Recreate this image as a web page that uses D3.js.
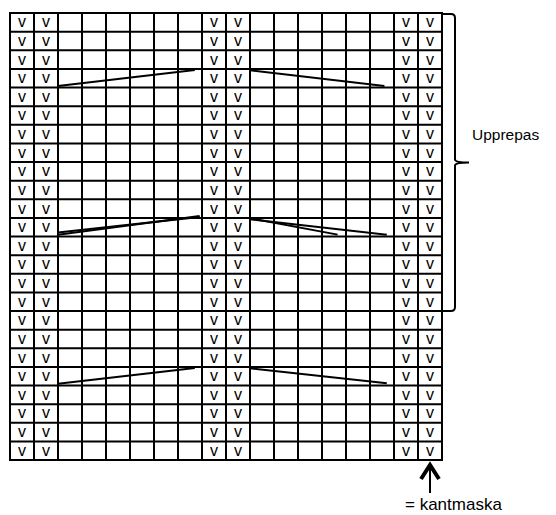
<!DOCTYPE html>
<html>
<head>
<meta charset="utf-8">
<script src="https://cdn.jsdelivr.net/npm/d3@7"></script>
<style>
  body { margin: 0; background: #fff; }
  svg { display: block; }
</style>
</head>
<body>
<div class="vis-container"></div>
<script>
// chart grid: 18 stitches x 24 rows
var numCols = 18;
var numRows = 24;
// columns that carry the "v" symbol
var vCols = [0, 1, 8, 9, 16, 17];
// floats: [colStart, rowStart, colEnd, rowEnd] in grid units
var floats = [
  [2, 3.92, 7.7, 3.06],
  [10, 3.08, 15.6, 3.92],
  [2, 11.9, 7.9, 10.9],
  [2, 11.78, 7.9, 10.95],
  [10, 11.02, 13.65, 11.9],
  [10, 11.08, 15.7, 11.9],
  [2, 19.9, 7.7, 19.06],
  [10, 19.08, 15.7, 19.88]
];
// repeat bracket spans these row lines
var repeatRows = [0, 16];
var repeatLabel = "Upprepas";
var edgeLabel = "= kantmaska";
var edgeCol = 17;

var svg = d3.select(".vis-container").append("svg")
  .attr("width", 556)
  .attr("height", 515);

var x = d3.scaleLinear().domain([0, numCols]).range([10, 442]);
var y = d3.scaleLinear().domain([0, numRows]).range([13, 460]);

var cells = [];
for (var r = 0; r < numRows; r++) {
  for (var c = 0; c < numCols; c++) {
    cells.push({ r: r, c: c, v: vCols.indexOf(c) >= 0 });
  }
}

svg.append("rect")
  .attr("x", x(0)).attr("y", y(0))
  .attr("width", x(numCols) - x(0)).attr("height", y(numRows) - y(0))
  .attr("fill", "#fff");

// v symbols
svg.selectAll("text.v")
  .data(cells.filter(function(d) { return d.v; }))
  .enter().append("text")
  .attr("class", "v")
  .attr("x", function(d) { return (x(d.c) + x(d.c + 1)) / 2; })
  .attr("y", function(d) { return (y(d.r) + y(d.r + 1)) / 2 + 5; })
  .attr("text-anchor", "middle")
  .attr("font-family", "Liberation Sans, Arial, sans-serif")
  .attr("font-size", 16)
  .attr("fill", "#000")
  .text("v");

// grid lines
svg.selectAll("line.col")
  .data(d3.range(numCols + 1))
  .enter().append("line")
  .attr("x1", function(d) { return x(d); })
  .attr("x2", function(d) { return x(d); })
  .attr("y1", y(0)).attr("y2", y(numRows))
  .attr("stroke", "#000").attr("stroke-width", 2);

svg.selectAll("line.row")
  .data(d3.range(numRows + 1))
  .enter().append("line")
  .attr("x1", x(0) - 1).attr("x2", x(numCols) + 1)
  .attr("y1", function(d) { return y(d); })
  .attr("y2", function(d) { return y(d); })
  .attr("stroke", "#000").attr("stroke-width", 2);

// floats
svg.selectAll("line.float")
  .data(floats)
  .enter().append("line")
  .attr("x1", function(d) { return x(d[0]); })
  .attr("y1", function(d) { return y(d[1]); })
  .attr("x2", function(d) { return x(d[2]); })
  .attr("y2", function(d) { return y(d[3]); })
  .attr("stroke", "#000").attr("stroke-width", 2);

// repeat bracket
var bTop = y(repeatRows[0]) + 1, bBot = y(repeatRows[1]);
var bMid = (bTop + bBot) / 2;
var bx0 = x(numCols) + 1, bx1 = bx0 + 12, bTip = bx1 + 14;
svg.append("path")
  .attr("d", "M" + bx0 + "," + bTop + " L" + (bx1 - 4) + "," + bTop +
    " Q" + bx1 + "," + bTop + " " + bx1 + "," + (bTop + 4) +
    " L" + bx1 + "," + (bMid - 3) +
    " Q" + bx1 + "," + bMid + " " + bTip + "," + bMid +
    " Q" + bx1 + "," + bMid + " " + bx1 + "," + (bMid + 3) +
    " L" + bx1 + "," + (bBot - 4) +
    " Q" + bx1 + "," + bBot + " " + (bx1 - 4) + "," + bBot +
    " L" + bx0 + "," + bBot)
  .attr("fill", "none")
  .attr("stroke", "#000").attr("stroke-width", 2);

svg.append("text")
  .attr("x", 472).attr("y", 140)
  .attr("font-family", "Liberation Sans, Arial, sans-serif")
  .attr("font-size", 15.5)
  .attr("fill", "#000")
  .text(repeatLabel);

// edge stitch arrow
var ax = (x(edgeCol) + x(edgeCol + 1)) / 2;
var ay = y(numRows) + 3;
svg.append("line")
  .attr("x1", ax).attr("x2", ax)
  .attr("y1", ay + 2).attr("y2", ay + 30)
  .attr("stroke", "#000").attr("stroke-width", 2);
svg.append("path")
  .attr("d", "M" + (ax - 9) + "," + (ay + 16) + " L" + ax + "," + (ay + 2) + " L" + (ax + 9) + "," + (ay + 16))
  .attr("fill", "none")
  .attr("stroke", "#000").attr("stroke-width", 4)
  .attr("stroke-linejoin", "miter");

svg.append("text")
  .attr("x", 405).attr("y", 510)
  .attr("font-family", "Liberation Sans, Arial, sans-serif")
  .attr("font-size", 17)
  .attr("fill", "#000")
  .text(edgeLabel);
</script>
</body>
</html>
